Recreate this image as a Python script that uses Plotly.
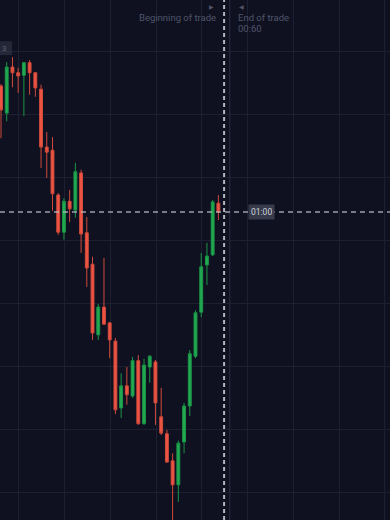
import plotly.graph_objects as go

# ---- data (price units: one grid step = 10) ----
candle_index = list(range(39))
open_ = [64.6, 60.3, 67.6, 66.7, 66.3, 68.3, 66.7, 64.1, 54.9, 54.4,
         47.3, 41.4, 46.3, 44.9, 50.8, 41.3, 36.3, 25.1, 29.5, 27.0,
         24.1, 13.5, 17.0, 15.4, 21.0, 11.0, 20.0, 20.8, 12.1, 9.4,
         5.1, 1.3, 8.1, 13.8, 21.7, 28.7, 36.2, 37.8, 46.0]
high = [64.9, 68.4, 69.2, 67.5, 68.4, 68.7, 66.8, 64.8, 57.3, 56.5,
        47.6, 46.8, 48.1, 52.4, 51.3, 43.8, 37.5, 30.0, 37.3, 27.1,
        24.6, 19.0, 20.0, 21.6, 21.9, 21.3, 21.9, 21.1, 16.7, 10.0,
        6.3, 8.3, 14.3, 22.7, 29.0, 38.1, 39.7, 46.5, 47.3]
low = [56.3, 59.0, 64.4, 63.5, 59.8, 63.2, 62.9, 51.6, 50.0, 44.8,
       41.0, 40.2, 43.0, 43.7, 38.1, 32.7, 24.3, 24.3, 26.7, 21.4,
       12.5, 11.9, 14.0, 15.1, 10.8, 10.8, 17.5, 10.8, 9.2, 4.8,
       -5.1, -1.4, 6.3, 12.2, 21.4, 27.9, 33.0, 37.6, 43.3]
close = [60.8, 67.6, 66.7, 66.2, 68.3, 66.7, 64.3, 54.9, 54.1, 47.5,
         41.4, 46.3, 45.1, 51.0, 41.1, 35.7, 25.4, 29.5, 26.8, 24.3,
         13.2, 17.0, 15.6, 21.0, 11.0, 20.3, 21.7, 14.3, 9.5, 4.9,
         1.3, 7.9, 13.8, 22.1, 28.6, 35.9, 37.6, 46.2, 44.6]

current_price = 44.6
trade_start = 39
trade_end = 40
left_price_label = 70.6
begin_text = "Beginning of trade"
end_text = "End of trade"
end_time = "00:60"
timer_text = "01:00"

BG = "#0f1120"
GRID = "#1c2030"
TEXT_GREY = "#50556a"

fig = go.Figure()
fig.add_trace(go.Candlestick(
    x=candle_index, open=open_, high=high, low=low, close=close,
    increasing=dict(line=dict(color="#1b9446", width=1), fillcolor="#22aa52"),
    decreasing=dict(line=dict(color="#cf4a3b", width=1), fillcolor="#ef5544"),
    whiskerwidth=0, hoverinfo="skip", showlegend=False,
))

fig.update_layout(
    width=390, height=520,
    margin=dict(l=0, r=0, t=0, b=0),
    paper_bgcolor=BG, plot_bgcolor=BG,
    boxgap=0.28,
    showlegend=False,
    xaxis=dict(range=[-0.175, 68.0], showgrid=True, gridcolor=GRID, gridwidth=1,
               tick0=3.1, dtick=8, showticklabels=False, zeroline=False,
               rangeslider=dict(visible=False), ticks=""),
    yaxis=dict(range=[-4.29, 78.25], showgrid=True, gridcolor=GRID, gridwidth=1,
               tick0=0, dtick=10, showticklabels=False, zeroline=False, ticks=""),
    font=dict(family="Roboto, sans-serif"),
)

# trade window lines
fig.add_shape(type="line", xref="x", yref="paper", x0=trade_end, x1=trade_end, y0=0, y1=1,
              line=dict(color="#2a2f42", width=1), layer="below")
fig.add_shape(type="line", xref="x", yref="paper", x0=trade_start, x1=trade_start, y0=0, y1=1,
              line=dict(color="rgba(220,223,232,0.8)", width=2, dash="4px,3px"))
# current price line
fig.add_shape(type="line", xref="paper", yref="y", x0=0, x1=1, y0=current_price, y1=current_price,
              line=dict(color="rgba(190,194,206,0.8)", width=1.5, dash="5px,4px"))
# left cut-off price label box
fig.add_shape(type="rect", xref="paper", yref="y", x0=-0.02, x1=0.031,
              y0=left_price_label - 1.1, y1=left_price_label + 1.1,
              fillcolor="rgba(58,62,78,0.5)", line=dict(width=0))
fig.add_annotation(x=0, xref="paper", y=left_price_label, yref="y", text="3",
                   showarrow=False, xanchor="left", xshift=0,
                   font=dict(size=8, color="#5d6274"))

# top labels
fig.add_annotation(x=trade_start, xref="x", y=1, yref="paper", yshift=-17, text=begin_text,
                   showarrow=False, xanchor="right", yanchor="middle", xshift=-6,
                   font=dict(size=9.5, color=TEXT_GREY))
fig.add_annotation(x=trade_end, xref="x", y=1, yref="paper", yshift=-17, text=end_text,
                   showarrow=False, xanchor="left", yanchor="middle", xshift=6,
                   font=dict(size=9.5, color=TEXT_GREY))
fig.add_annotation(x=trade_end, xref="x", y=1, yref="paper", yshift=-28, text=end_time,
                   showarrow=False, xanchor="left", yanchor="middle", xshift=6,
                   font=dict(size=9.5, color=TEXT_GREY))
fig.add_annotation(x=trade_start, xref="x", y=1, yref="paper", yshift=-6, text="▶",
                   showarrow=False, xanchor="right", yanchor="middle", xshift=-8,
                   font=dict(size=6, color=TEXT_GREY))
fig.add_annotation(x=trade_end, xref="x", y=1, yref="paper", yshift=-6, text="◀",
                   showarrow=False, xanchor="left", yanchor="middle", xshift=7,
                   font=dict(size=6, color=TEXT_GREY))

# timer label on the price line
fig.add_annotation(x=45.6, xref="x", y=current_price, yref="y", text=timer_text,
                   showarrow=False, xanchor="center", yanchor="middle",
                   bgcolor="#363a4a", borderpad=2,
                   font=dict(size=8.5, color="#cfd2dc"))

fig.write_html("out.html")
